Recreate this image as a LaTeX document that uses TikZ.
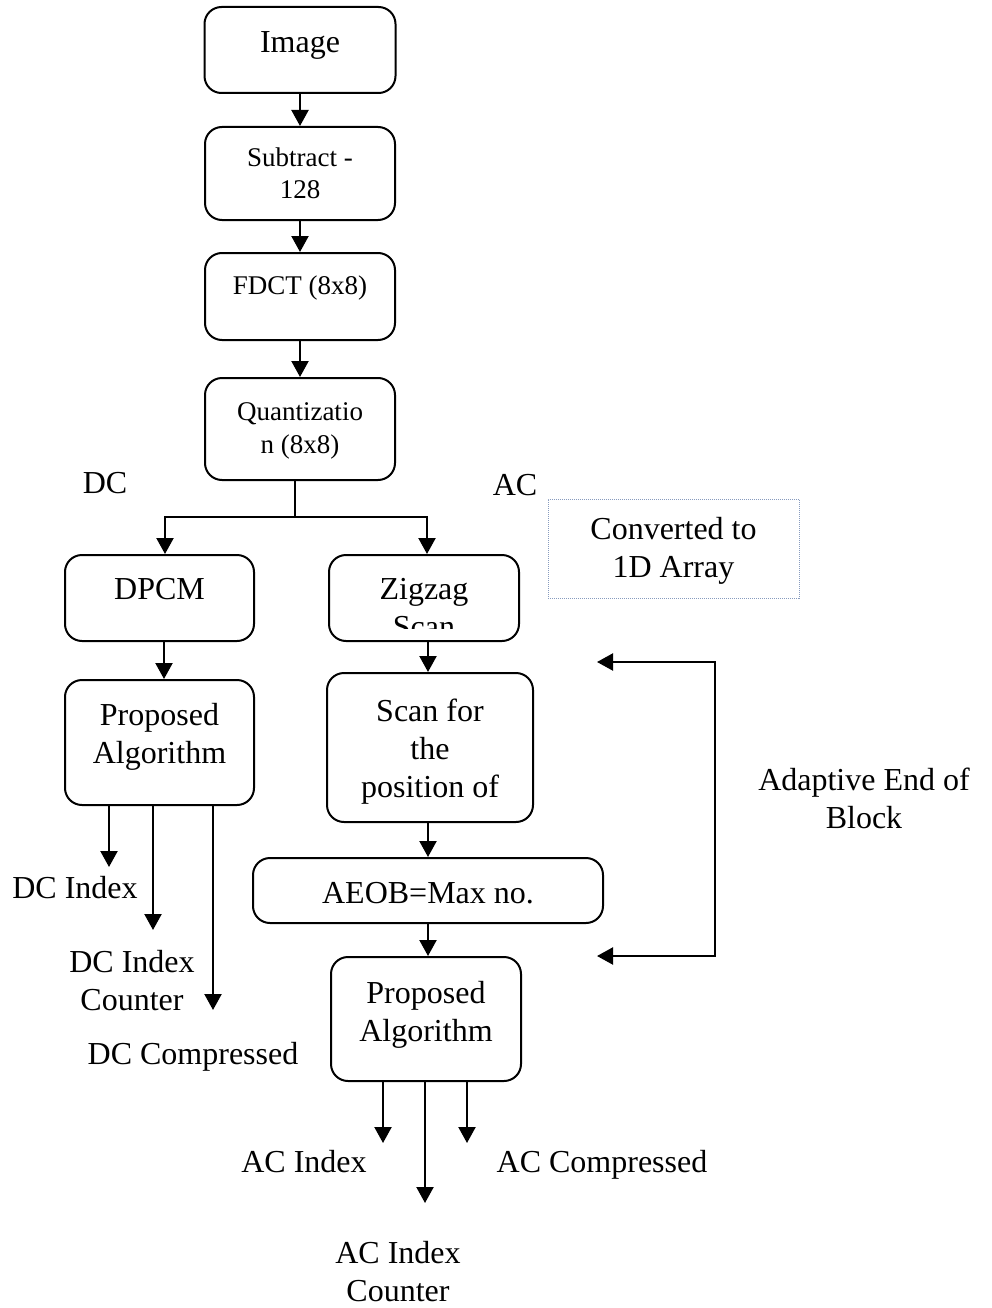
\documentclass[tikz,border=0pt]{standalone}
\usepackage{fontspec}
\setmainfont{Liberation Serif}
\usetikzlibrary{arrows.meta,calc}

\newcommand\bigtxt{\fontsize{32}{38}\selectfont}
\newcommand\smalltxt{\fontsize{27}{32.5}\selectfont}
% centred block of lines, optionally lifted without changing its size
\newcommand\txtblock[2][0pt]{\raisebox{#1}[\height][\depth]{\begin{tabular}{@{}c@{}}#2\end{tabular}}}

\definecolor{dotblue}{RGB}{135,155,190}

\tikzset{
  box/.style={draw, line width=2pt, rounded corners=17pt, inner sep=0pt, font=\bigtxt},
  small/.style={font=\smalltxt},
  lbl/.style={inner sep=0pt, font=\bigtxt},
  tip/.tip={Triangle[width=17pt,length=16pt]},
  arr/.style={line width=2.2pt, -tip},
  wire/.style={line width=2.2pt},
}

\begin{document}
\begin{tikzpicture}[x=1pt, y=-1pt]
\useasboundingbox (0,0) rectangle (991,1308);

% main chain
\node[box, minimum width=191, minimum height=86] (img) at (300,50) {\txtblock[5pt]{Image}};
\node[box, small, minimum width=190, minimum height=93] (sub) at (300,173.5) {\txtblock[-2.6pt]{Subtract -\\128}};
\node[box, small, minimum width=190, minimum height=87] (fdct) at (300,296.5) {\txtblock[9pt]{FDCT (8x8)}};
\node[box, small, minimum width=190, minimum height=102] (quant) at (300,429) {\txtblock[-1.4pt]{Quantizatio\\n (8x8)}};

% DC branch
\node[box, minimum width=189, minimum height=86] (dpcm) at (159.5,598) {\txtblock[6pt]{DPCM}};
\node[box, minimum width=189, minimum height=125] (lp) at (159.5,742.5) {\txtblock[5.5pt]{Proposed\\Algorithm}};

% AC branch
\node[box, minimum width=190, minimum height=86] (zig) at (424,598) {};
\begin{scope}
  \clip ($(zig.north west)+(2,2)$) rectangle ($(zig.south east)+(-2,-14)$);
  \node[lbl] (zigtext) at (424,611) {\txtblock{Zigzag\\Scan}};
\end{scope}
\node[box, minimum width=206, minimum height=149] (scan) at (430,747.5) {\txtblock[-4.5pt]{Scan for\\the\\position of}};
\node[box, minimum width=350, minimum height=65] (aeob) at (428,890.5) {\txtblock[-5pt]{AEOB=Max no.}};
\node[box, minimum width=190, minimum height=124] (rp) at (426,1019) {\txtblock[4.5pt]{Proposed\\Algorithm}};

% note box
\node[draw=dotblue, densely dotted, line width=1pt, inner sep=0pt, font=\bigtxt,
      minimum width=251, minimum height=99] (conv) at (673.5,548.5) {\txtblock[-2.5pt]{Converted to\\1D Array}};

% labels
\node[lbl] (dc) at (105,486) {\txtblock{DC}};
\node[lbl] (ac) at (515,488) {\txtblock{AC}};
\node[lbl] (aeobtxt) at (864,802) {\txtblock{Adaptive End of\\Block}};
\node[lbl] (dcidx) at (75,891) {\txtblock{DC Index}};
\node[lbl] (dccnt) at (132,984) {\txtblock{DC Index\\Counter}};
\node[lbl] (dccmp) at (193,1057) {\txtblock{DC Compressed}};
\node[lbl] (acidx) at (304,1165) {\txtblock{AC Index}};
\node[lbl] (accmp) at (602,1165) {\txtblock{AC Compressed}};
\node[lbl] (accnt) at (398,1274.5) {\txtblock{AC Index\\Counter}};

% chain connectors
\draw[arr] (img.south) -- (sub.north);
\draw[arr] (sub.south) -- (fdct.north);
\draw[arr] (fdct.south) -- (quant.north);

% split into DC and AC
\coordinate (split) at (295,517);
\draw[wire] (split |- quant.south) -- (split);
\draw[arr] (split) -| ($(dpcm.north)+(5.5,0)$);
\draw[arr] (split) -| ($(zig.north)+(3,0)$);

\draw[arr] ($(dpcm.south)+(4.5,0)$) -- ($(lp.north)+(4.5,0)$);
\draw[arr] ($(zig.south)+(4,0)$) -- ($(scan.north)+(-2,0)$);
\draw[arr] ($(scan.south)+(-2,0)$) -- (aeob.north);
\draw[arr] (aeob.south) -- (aeob.south |- rp.north);

% adaptive end of block loop
\coordinate (fbtop) at (597,662);
\coordinate (fbbot) at (597,956);
\coordinate (fbtr) at (715,662);
\coordinate (fbbr) at (715,956);
\draw[line width=2.2pt, tip-tip] (fbtop) -- (fbtr) -- (fbbr) -- (fbbot);

% DC outputs
\coordinate (dco1) at (109,867);
\coordinate (dco2) at (153,930);
\coordinate (dco3) at (213,1010);
\draw[arr] (lp.south -| dco1) -- (dco1);
\draw[arr] (lp.south -| dco2) -- (dco2);
\draw[arr] (lp.south -| dco3) -- (dco3);

% AC outputs
\coordinate (aco1) at (383,1143);
\coordinate (aco2) at (425,1203);
\coordinate (aco3) at (467,1143);
\draw[arr] (rp.south -| aco1) -- (aco1);
\draw[arr] (rp.south -| aco2) -- (aco2);
\draw[arr] (rp.south -| aco3) -- (aco3);
\end{tikzpicture}
\end{document}
